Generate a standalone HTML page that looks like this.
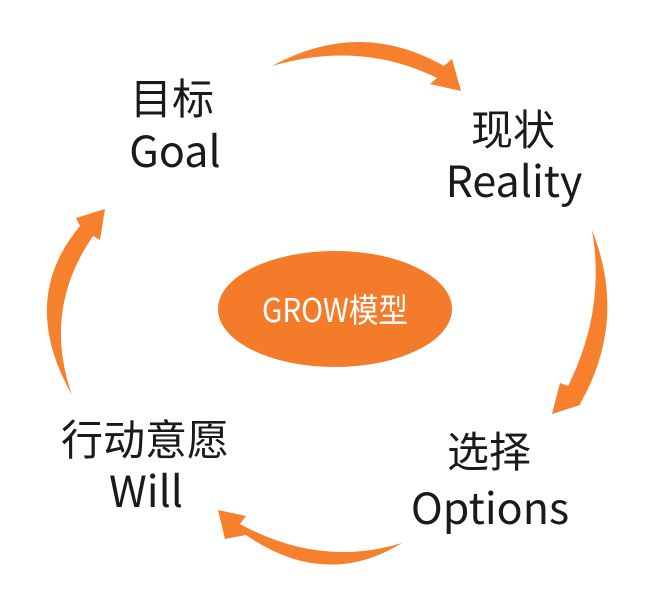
<!DOCTYPE html>
<html><head><meta charset="utf-8"><style>
html,body{margin:0;padding:0;background:#fff;}
svg{display:block}
text{font-family:"Noto Sans CJK SC","Liberation Sans",sans-serif;fill:#1a1a1a}
</style></head><body>
<svg width="664" height="603" viewBox="0 0 664 603" xmlns="http://www.w3.org/2000/svg">
<g fill="#F7802D">
<path d="M272,66 Q360,18 444,66 L452,59 L461,91 L430,84 L437,78 Q360,40 272,66 Z"/>
<path d="M592,230 Q628,320 580,404 L580,405 L552,414 L560,383 L568,386 Q606,310 592,230 Z"/>
<path d="M402,543 Q325,590 246,535 L225,539 L218,510 L246,516 L240,524 Q320,568 402,543 Z"/>
<path d="M72,395 Q18,300 80,226 L76,218 L105,209 L100,240 L93,236 Q42,310 72,395 Z"/>
</g>
<ellipse cx="335" cy="309" rx="117" ry="58" fill="#F47B2A"/>
<text x="262" y="322" font-size="33" textLength="146" lengthAdjust="spacingAndGlyphs" style="fill:#fff">GROW模型</text>
<text x="172" y="114" text-anchor="middle" font-size="42">目标</text>
<text x="175" y="167" text-anchor="middle" font-size="43">Goal</text>
<text x="513" y="145" text-anchor="middle" font-size="42">现状</text>
<text x="514" y="197" text-anchor="middle" font-size="43">Reality</text>
<text x="489" y="467" text-anchor="middle" font-size="42">选择</text>
<text x="490" y="524" text-anchor="middle" font-size="43">Options</text>
<text x="145" y="455" text-anchor="middle" font-size="42">行动意愿</text>
<text x="146" y="507" text-anchor="middle" font-size="43">Will</text>
</svg>
</body></html>
